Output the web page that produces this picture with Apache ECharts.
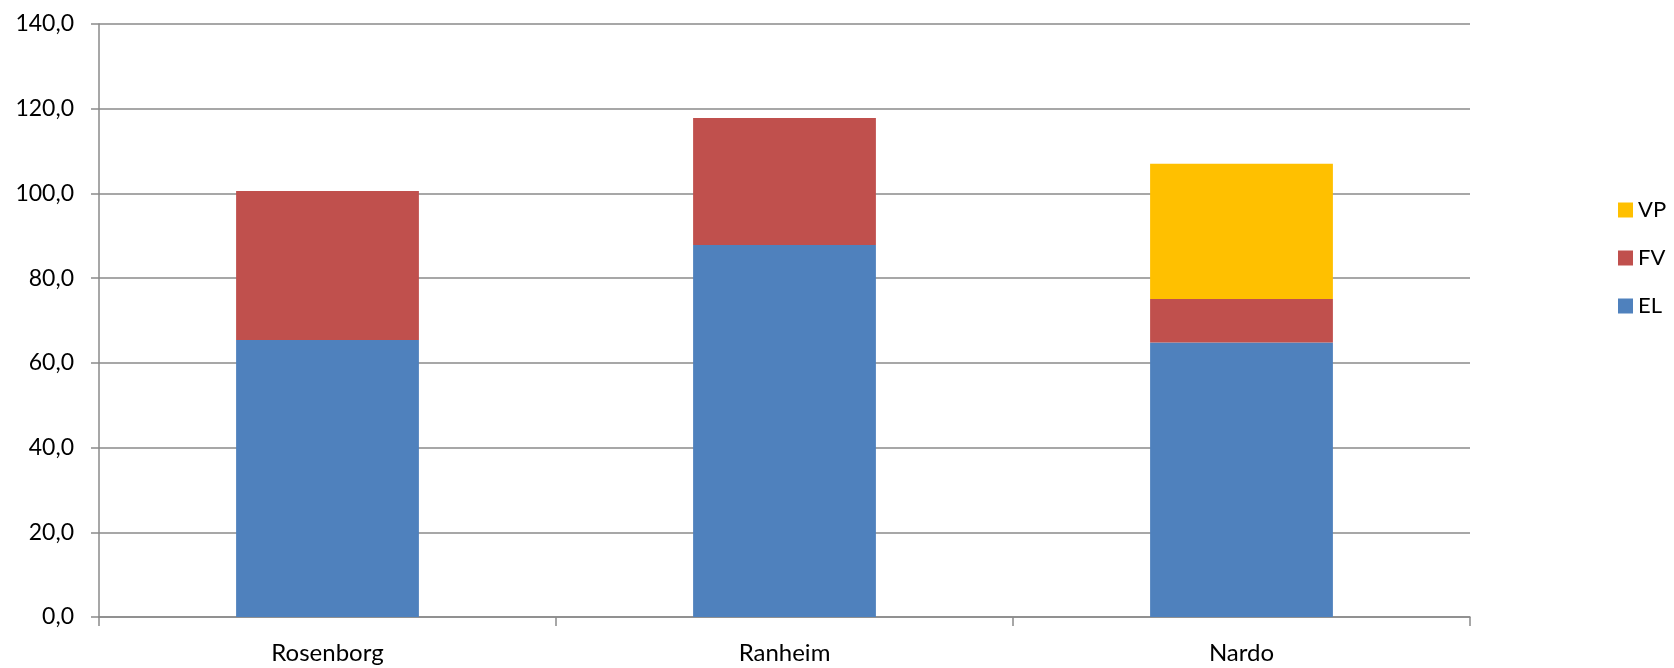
<!DOCTYPE html>
<html>
<head>
<meta charset="utf-8">
<script src="https://cdn.jsdelivr.net/npm/echarts@6/dist/echarts.min.js"></script>
<style>html,body{margin:0;padding:0;background:#fff}#c{width:1674px;height:668px}</style>
</head>
<body>
<div id="c"></div>
<script>
const categories = ['Rosenborg', 'Ranheim', 'Nardo'];
const EL = [65.4, 87.8, 64.8];
const FV = [35.2, 30.0, 10.3];
const VP = [0, 0, 31.9];
const legendOrder = ['VP', 'FV', 'EL'];

const FONT = 'Lato, "Open Sans", sans-serif';
const chart = echarts.init(document.getElementById('c'), null, {renderer: 'canvas'});
const mk = (name, data, color) => ({
  name, type: 'bar', stack: 'total', data, barWidth: '40%',
  itemStyle: {color}, emphasis: {disabled: true}
});
chart.setOption({
  animation: false,
  backgroundColor: '#fff',
  grid: {left: 99, right: 204, top: 24, bottom: 51, containLabel: false},
  legend: {
    data: legendOrder, orient: 'vertical', left: 1618, top: 199, padding: 0,
    itemWidth: 15, itemHeight: 15, icon: 'rect', itemGap: 26,
    textStyle: {fontFamily: FONT, fontSize: 22, color: '#000'}
  },
  xAxis: {
    type: 'category', data: categories, boundaryGap: true,
    axisLine: {lineStyle: {color: '#8a8a8a', width: 1.5}},
    axisTick: {show: true, length: 9, lineStyle: {color: '#8a8a8a', width: 1.5}},
    axisLabel: {fontFamily: FONT, fontSize: 24, color: '#000', margin: 24}
  },
  yAxis: {
    type: 'value', min: 0, max: 140, interval: 20,
    axisLine: {show: true, lineStyle: {color: '#8a8a8a', width: 1.5}},
    axisTick: {show: true, length: 8, lineStyle: {color: '#8a8a8a', width: 1.5}},
    splitLine: {lineStyle: {color: '#8a8a8a', width: 1.5}},
    axisLabel: {fontFamily: FONT, fontSize: 23, color: '#000', margin: 25,
      formatter: v => v.toFixed(1).replace('.', ',')}
  },
  series: [mk('EL', EL, '#4F81BD'), mk('FV', FV, '#C0504D'), mk('VP', VP, '#FFC000')]
});
</script>
</body>
</html>
